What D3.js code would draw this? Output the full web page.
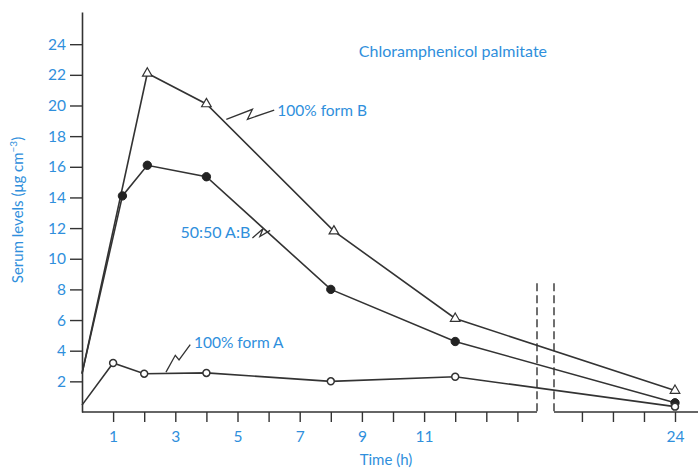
<!DOCTYPE html>
<html>
<head>
<meta charset="utf-8">
<script src="https://cdn.jsdelivr.net/npm/d3@7"></script>
<style>
  body { margin: 0; background: #fff; }
  text { font-family: Lato, "Noto Sans", sans-serif; }
  .blue { fill: #2f8fdc; }
</style>
</head>
<body>
<div id="chart"></div>
<script>
// data
const timeB = [0, 2.1, 4, 8.1, 12, 24];
const formB = [2.5, 22.1, 20.1, 11.8, 6.1, 1.4];
const timeMix = [0, 1.3, 2.1, 4, 8, 12, 24];
const formMix = [2.5, 14.1, 16.1, 15.35, 8, 4.6, 0.6];
const timeA = [0, 1, 2, 4, 8, 12, 24];
const formA = [0.45, 3.2, 2.5, 2.55, 2.0, 2.3, 0.35];

const yTicks = [2, 4, 6, 8, 10, 12, 14, 16, 18, 20, 22, 24];
const xTicks = [1, 2, 3, 4, 5, 6, 7, 8, 9, 10, 11, 12, 13, 14, 21, 22, 23, 24];
const xLabels = [1, 3, 5, 7, 9, 11, 24];
const breakStart = 14.63, breakEnd = 20.1;

const width = 698, height = 468;

const svg = d3.select("#chart").append("svg")
    .attr("width", width)
    .attr("height", height);

// broken time axis: piecewise scale
const x = d3.scaleLinear()
    .domain([0, breakStart, breakEnd, 24])
    .range([82, 537, 554, 675]);
const y = d3.scaleLinear()
    .domain([0, 26.1])
    .range([412, 12]);

// y axis
const yAxis = svg.append("g")
    .attr("transform", `translate(${x(0)},0)`)
    .call(d3.axisLeft(y).tickValues(yTicks).tickSize(12).tickSizeOuter(0).tickPadding(4));
yAxis.select(".domain").attr("stroke", "#333").attr("stroke-width", 1.6);
yAxis.selectAll(".tick line").attr("stroke", "#333").attr("stroke-width", 1.4);
yAxis.selectAll(".tick text").attr("class", "blue").style("font-size", "15.5px")
    .style("font-family", "Lato, sans-serif");

// x axis
const xAxis = svg.append("g")
    .attr("transform", `translate(0,${y(0)})`)
    .call(d3.axisBottom(x).tickValues(xTicks).tickSize(10).tickPadding(9)
        .tickFormat(d => xLabels.includes(d) ? d : ""));
xAxis.select(".domain").remove();
xAxis.selectAll(".tick line").attr("stroke", "#333").attr("stroke-width", 1.4);
xAxis.selectAll(".tick text").attr("class", "blue").style("font-size", "15.5px")
    .style("font-family", "Lato, sans-serif");

// axis line in two parts with the break
svg.append("line")
    .attr("x1", x(0)).attr("x2", x(breakStart))
    .attr("y1", y(0)).attr("y2", y(0))
    .attr("stroke", "#333").attr("stroke-width", 1.6);
svg.append("line")
    .attr("x1", x(breakEnd)).attr("x2", width)
    .attr("y1", y(0)).attr("y2", y(0))
    .attr("stroke", "#333").attr("stroke-width", 1.6);

// dashed break markers
[breakStart, breakEnd].forEach(t => {
    svg.append("line")
        .attr("x1", x(t)).attr("x2", x(t))
        .attr("y1", y(8.4)).attr("y2", y(0))
        .attr("stroke", "#333").attr("stroke-width", 1.4)
        .attr("stroke-dasharray", "8,4");
});

// series
const line = d3.line().x(d => x(d[0])).y(d => y(d[1]));
const series = [
    { t: timeB, v: formB, marker: "triangle" },
    { t: timeMix, v: formMix, marker: "dot" },
    { t: timeA, v: formA, marker: "ring" }
];

series.forEach(s => {
    const pts = s.t.map((t, i) => [t, s.v[i]]);
    svg.append("path")
        .datum(pts)
        .attr("fill", "none")
        .attr("stroke", "#333")
        .attr("stroke-width", 1.6)
        .attr("d", line);

    const marks = svg.append("g").selectAll("path")
        .data(pts.slice(1))
        .join("path")
        .attr("transform", d => `translate(${x(d[0])},${y(d[1])})`);
    if (s.marker === "triangle") {
        marks.attr("d", d3.symbol(d3.symbolTriangle, 40)())
            .attr("fill", "#fff").attr("stroke", "#333").attr("stroke-width", 1.2);
    } else if (s.marker === "dot") {
        marks.attr("d", d3.symbol(d3.symbolCircle, 55)())
            .attr("fill", "#222").attr("stroke", "#222");
    } else {
        marks.attr("d", d3.symbol(d3.symbolCircle, 38)())
            .attr("fill", "#fff").attr("stroke", "#333").attr("stroke-width", 1.5);
    }
});

// zigzag leaders (data units) and their labels
const leaderB = [[4.64, 19.1], [5.48, 19.75], [5.32, 19.1], [6.18, 19.7]];
const leaderMix = [[5.48, 11.35], [5.82, 11.95], [5.72, 11.45], [6.05, 11.85]];
const leaderA = [[2.7, 2.6], [3.0, 3.7], [3.12, 3.4], [3.48, 4.4]];

const leader = d3.line().x(d => x(d[0])).y(d => y(d[1]));
[leaderB, leaderMix, leaderA].forEach(pts => {
    svg.append("path")
        .attr("d", leader(pts))
        .attr("fill", "none")
        .attr("stroke", "#333")
        .attr("stroke-width", 1.3);
});

const labels = [
    { text: "100% form B", t: 6.28, v: 19.7, anchor: "start", size: 15.5 },
    { text: "50:50 A:B", t: 5.41, v: 11.7, anchor: "end", size: 16 },
    { text: "100% form A", t: 3.6, v: 4.5, anchor: "start", size: 15.5 },
    { text: "Chloramphenicol palmitate", t: 8.9, v: 23.5, anchor: "start", size: 16 }
];
svg.append("g").selectAll("text")
    .data(labels)
    .join("text")
    .attr("class", "blue")
    .attr("x", d => x(d.t))
    .attr("y", d => y(d.v))
    .attr("dy", "0.35em")
    .attr("text-anchor", d => d.anchor)
    .style("font-size", d => d.size + "px")
    .text(d => d.text);

// axis titles
const yTitle = svg.append("text")
    .attr("class", "blue")
    .attr("transform", "translate(23,210) rotate(-90)")
    .attr("text-anchor", "middle")
    .style("font-size", "15px");
yTitle.append("tspan").text("Serum levels (\u03bcg cm");
yTitle.append("tspan").attr("baseline-shift", "super").style("font-size", "10px").text("\u22123");
yTitle.append("tspan").text(")");

svg.append("text")
    .attr("class", "blue")
    .attr("x", 386)
    .attr("y", 465)
    .attr("text-anchor", "middle")
    .style("font-size", "15px")
    .text("Time (h)");
</script>
</body>
</html>
